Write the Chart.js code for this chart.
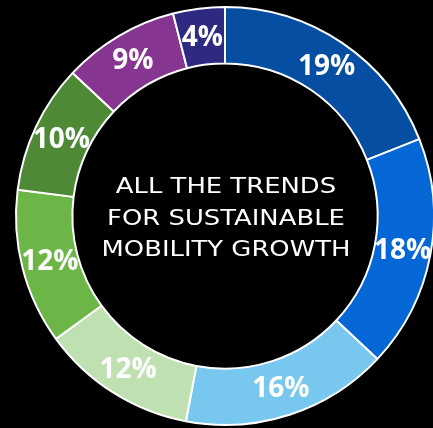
<!DOCTYPE html>
<html lang="en">
  <head>
    <meta charset="UTF-8" />
    <title>Sustainable mobility trends</title>
    <script src="https://cdn.jsdelivr.net/npm/chart.js@4.4.0/dist/chart.umd.min.js"></script>
    <style>
      html,
      body {
        margin: 0;
        padding: 0;
        background: #000;
        overflow: hidden;
        width: 433px;
        height: 428px;
      }
      #wrap {
        position: absolute;
        left: 0;
        top: 0;
        width: 450px;
        height: 432px;
      }
    </style>
  </head>
  <body>
    <div id="wrap">
      <canvas id="donut"></canvas>
    </div>
    <script>
      const shares = [19, 18, 16, 12, 12, 10, 9, 4];
      const colors = ['#054ea2', '#0566d6', '#78c7ef', '#bfe0b0', '#6bb646', '#4e8936', '#863590', '#2e2a82'];
      const centerLines = ['ALL THE TRENDS', 'FOR SUSTAINABLE', 'MOBILITY GROWTH'];

      // percentage on each slice + title in the hole
      const labels = {
        id: 'labels',
        afterDatasetsDraw(chart) {
          const ctx = chart.ctx;
          const meta = chart.getDatasetMeta(0);
          ctx.save();
          ctx.fillStyle = '#fff';
          ctx.textAlign = 'center';
          ctx.textBaseline = 'middle';
          ctx.font = 'bold 28px "Open Sans"';
          meta.data.forEach((arc, i) => {
            const p = arc.tooltipPosition();
            ctx.fillText(shares[i] + '%', p.x, p.y + 1);
          });

          const cx = meta.data[0].x;
          const cy = meta.data[0].y;
          ctx.font = '20.5px "DejaVu Sans"';
          // the original face is very wide: stretch so the last line spans ~249px
          const sx = 249 / ctx.measureText(centerLines[2]).width;
          ctx.translate(cx + 1, cy);
          ctx.scale(sx, 1);
          centerLines.forEach((line, i) => {
            ctx.fillText(line, 0, -28 + i * 31.5);
          });
          ctx.restore();
        },
      };

      new Chart(document.getElementById('donut'), {
        type: 'doughnut',
        data: {
          labels: shares.map((s) => s + '%'),
          datasets: [
            {
              data: shares,
              backgroundColor: colors,
              borderColor: '#fff',
              borderWidth: 2,
            },
          ],
        },
        options: {
          responsive: true,
          maintainAspectRatio: false,
          animation: false,
          radius: 209,
          cutout: 157,
          layout: { padding: 0 },
          plugins: {
            legend: { display: false },
            tooltip: { enabled: false },
          },
        },
        plugins: [labels],
      });
    </script>
  </body>
</html>
